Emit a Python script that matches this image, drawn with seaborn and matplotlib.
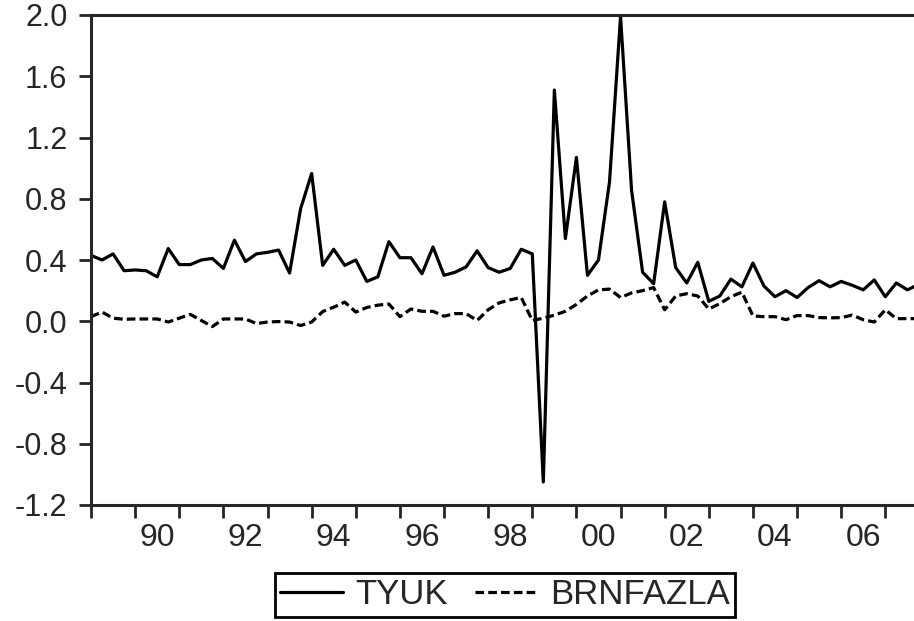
import numpy as np
import pandas as pd
import seaborn as sns
import matplotlib.pyplot as plt
from matplotlib.lines import Line2D
from matplotlib.ticker import FixedLocator, NullFormatter, FixedFormatter

# quarterly observations, 1989Q1 onwards
start_year = 1989
tyuk = [0.43, 0.40, 0.44, 0.33, 0.335, 0.33, 0.29, 0.475, 0.37, 0.37,
        0.40, 0.41, 0.345, 0.53, 0.39, 0.44, 0.45, 0.465, 0.315, 0.735,
        0.965, 0.365, 0.47, 0.365, 0.40, 0.26, 0.29, 0.52, 0.415, 0.415,
        0.31, 0.485, 0.30, 0.32, 0.355, 0.46, 0.35, 0.32, 0.345, 0.47,
        0.44, -1.05, 1.51, 0.54, 1.07, 0.30, 0.40, 0.91, 1.99, 0.855,
        0.32, 0.245, 0.78, 0.35, 0.25, 0.385, 0.13, 0.165, 0.275, 0.225,
        0.38, 0.23, 0.16, 0.20, 0.155, 0.22, 0.265, 0.225, 0.26, 0.235,
        0.205, 0.27, 0.16, 0.25, 0.205, 0.24]
brnfazla = [0.03, 0.06, 0.02, 0.013, 0.015, 0.015, 0.015, -0.005, 0.02, 0.045,
            0.005, -0.035, 0.015, 0.015, 0.015, -0.015, -0.005, -0.002, -0.005, -0.028,
            -0.005, 0.063, 0.092, 0.125, 0.06, 0.09, 0.105, 0.113, 0.03, 0.08,
            0.065, 0.065, 0.033, 0.05, 0.05, 0.005, 0.075, 0.12, 0.14, 0.155,
            0.005, 0.02, 0.04, 0.065, 0.11, 0.165, 0.205, 0.21, 0.155, 0.185,
            0.20, 0.22, 0.075, 0.165, 0.18, 0.165, 0.08, 0.115, 0.16, 0.19,
            0.035, 0.03, 0.03, 0.01, 0.037, 0.037, 0.024, 0.022, 0.024, 0.04,
            0.01, -0.005, 0.075, 0.017, 0.017, 0.017]

yticks = [-1.2, -0.8, -0.4, 0.0, 0.4, 0.8, 1.2, 1.6, 2.0]
label_years = [1990, 1992, 1994, 1996, 1998, 2000, 2002, 2004, 2006]

n = len(tyuk)
t = start_year + np.arange(n) / 4
df = pd.DataFrame({
    "t": np.concatenate([t, t]),
    "value": tyuk + brnfazla,
    "series": ["TYUK"] * n + ["BRNFAZLA"] * n,
})

sns.set_style("ticks")
plt.rcParams["font.family"] = ["Liberation Sans", "DejaVu Sans"]

fig = plt.figure(figsize=(9.14, 6.21), dpi=100)
ax = fig.add_axes([91 / 914, 1 - 505 / 621, 1 - 91 / 914, (505 - 15) / 621])

dash = (2.7, 1.3)
sns.lineplot(data=df, x="t", y="value", style="series",
             dashes={"TYUK": "", "BRNFAZLA": dash},
             color="black", linewidth=2.3, legend=False, ax=ax)

ax.set_ylim(-1.2, 2.0)
ax.set_xlim(start_year, start_year + 74.6 / 4)
ax.set_yticks(yticks)
ax.set_yticklabels([f"{v:.1f}" for v in yticks])
ax.set_xlabel("")
ax.set_ylabel("")

# year ticks on the axis, two-digit labels centred in the year
ax.xaxis.set_major_locator(FixedLocator(np.arange(start_year, 2008)))
ax.xaxis.set_major_formatter(NullFormatter())
ax.xaxis.set_minor_locator(FixedLocator([y + 0.5 for y in label_years]))
ax.xaxis.set_minor_formatter(FixedFormatter([f"{y % 100:02d}" for y in label_years]))
ax.tick_params(axis="x", which="major", direction="out", length=9, width=2)
ax.tick_params(axis="x", which="minor", length=0, pad=13, labelsize=23)
ax.tick_params(axis="y", direction="out", length=9, width=2, pad=8, labelsize=22)

for side in ["left", "bottom", "top"]:
    ax.spines[side].set_linewidth(2.2)
ax.spines["right"].set_visible(False)

handles = [Line2D([], [], color="black", lw=2.3),
           Line2D([], [], color="black", lw=2.3, dashes=dash)]
leg = fig.legend(handles, ["TYUK", "BRNFAZLA"], loc="center",
                 bbox_to_anchor=(505 / 914, 1 - 595 / 621), ncol=2,
                 fontsize=25, frameon=True, fancybox=False, framealpha=1,
                 handlelength=1.8, handletextpad=0.35, columnspacing=0.8,
                 borderpad=0.15, borderaxespad=0)
leg.get_frame().set_edgecolor("black")
leg.get_frame().set_linewidth(2)

fig.savefig("out.png", dpi=100)
